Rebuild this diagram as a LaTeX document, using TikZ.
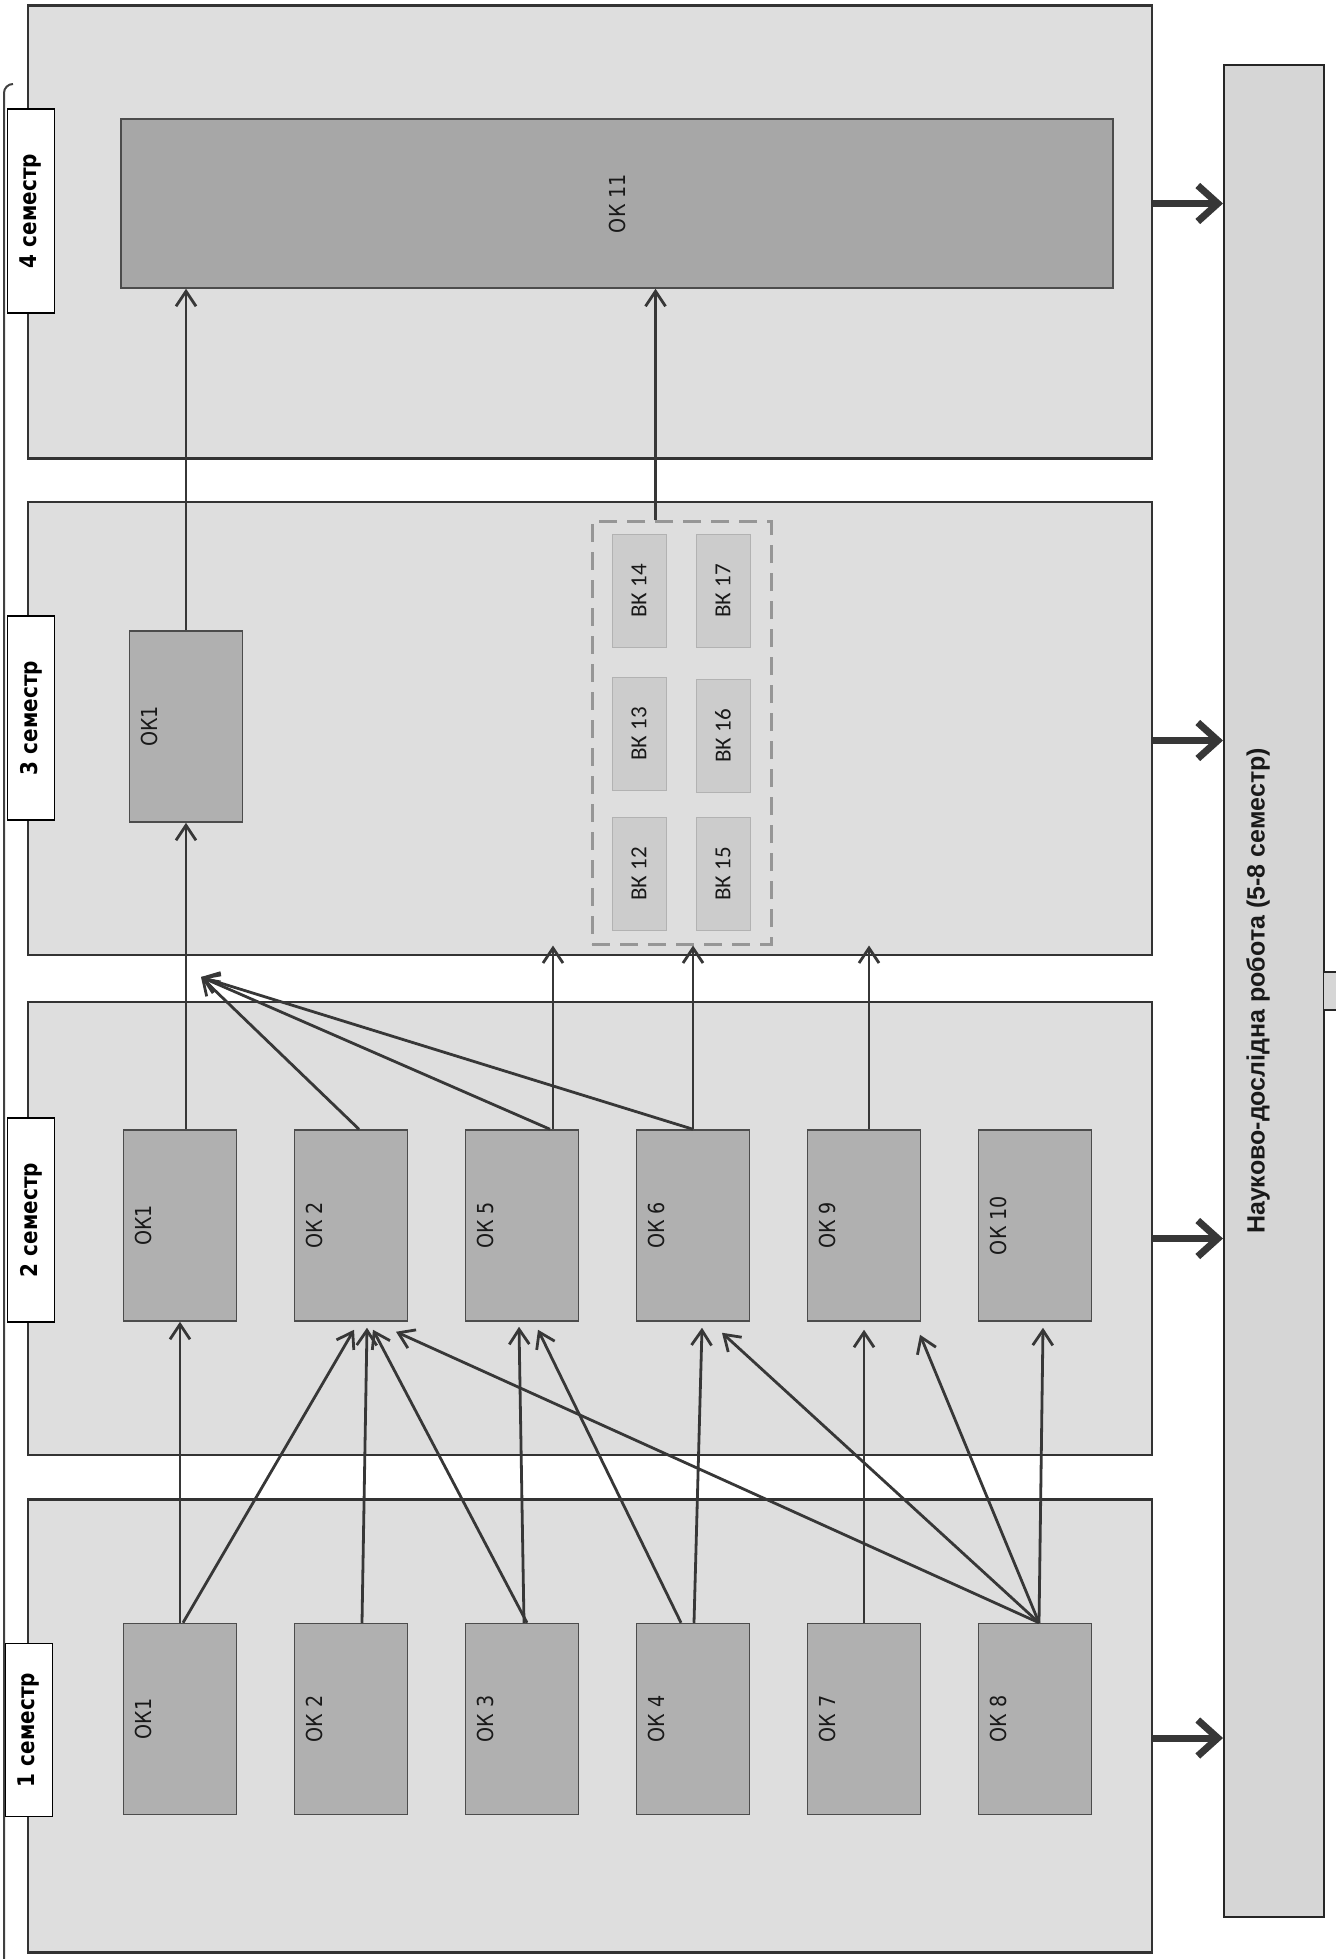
\documentclass[tikz,border=0pt]{standalone}
\usepackage{fontspec}
\usepackage{tikz}
\usetikzlibrary{arrows.meta,positioning}
\newfontfamily\okfont[FakeStretch=0.87]{DejaVu Sans}
\newfontfamily\vkfont{Carlito}
\newfontfamily\nirfont{Liberation Sans}
\definecolor{panelgray}{RGB}{222,222,222}
\definecolor{okgray}{RGB}{176,176,176}
\definecolor{vkgray}{RGB}{204,204,204}
\definecolor{groupgray}{RGB}{150,150,150}
\definecolor{linegray}{RGB}{55,55,55}
\definecolor{nirgray}{RGB}{214,214,214}

\begin{document}
\begin{tikzpicture}[x=1pt,y=-1pt,
  node distance=56.5pt,
  panel/.style={draw=black!80,line width=2.5pt,fill=panelgray,minimum width=1124pt,
    minimum height=453pt,inner sep=0pt},
  sem/.style={draw=black,line width=1.5pt,fill=white,minimum width=47pt,minimum height=204pt,
    inner sep=0pt,font=\okfont\bfseries\fontsize{23}{25}\selectfont},
  ok/.style={draw=black!70,line width=1.5pt,fill=okgray,minimum width=113pt,minimum height=191pt,
    inner sep=0pt,label={[rotate=90,anchor=north,inner sep=12pt,
    font=\okfont\fontsize{22}{24}\selectfont,text=black!90]west:#1}},
  vk/.style={draw=black!30,line width=1pt,fill=vkgray,minimum width=54pt,minimum height=113pt,
    inner sep=0pt,font=\vkfont\fontsize{23}{26}\selectfont,text=black!90},
  arrow/.style={-{Straight Barb[length=15pt,width=20pt]},line width=2.8pt,draw=linegray},
  bigarrow/.style={-{Straight Barb[length=20pt,width=36pt]},line width=7pt,draw=linegray}
]
\useasboundingbox (0,0) rectangle (1336,1959);
\draw[line width=2pt,draw=black!75,rounded corners=9pt] (4,1959) -- (4,84) -- (13,84);

% semester panels
\node[panel] (p4) at (590,232) {};
\node[panel] (p3) at (590,728.5) {};
\node[panel] (p2) at (590,1228.5) {};
\node[panel] (p1) at (590,1726) {};
\node[sem] (s4) at (31,211) {\rotatebox{90}{4 семестр}};
\node[sem] (s3) at (31,718) {\rotatebox{90}{3 семестр}};
\node[sem] (s2) at (31,1220) {\rotatebox{90}{2 семестр}};
\node[sem,minimum height=173pt] (s1) at (29,1730) {\rotatebox{90}{1 семестр}};

% 1 semester
\node[ok=ОК1] (a1) at (180,1719) {};
\node[ok=ОК 2,right=of a1] (a2) {};
\node[ok=ОК 3,right=of a2] (a3) {};
\node[ok=ОК 4,right=of a3] (a4) {};
\node[ok=ОК 7,right=of a4] (a7) {};
\node[ok=ОК 8,right=of a7] (a8) {};

% 2 semester
\node[ok=ОК1,above=301pt of a1] (b1) {};
\node[ok=ОК 2,right=of b1] (b2) {};
\node[ok=ОК 5,right=of b2] (b5) {};
\node[ok=ОК 6,right=of b5] (b6) {};
\node[ok=ОК 9,right=of b6] (b9) {};
\node[ok=ОК 10,right=of b9] (b10) {};

% 3 semester
\node[ok=ОК1] (c1) at (186,726.5) {};
\node[draw=groupgray,dash pattern=on 18pt off 10pt,line width=3pt,minimum width=179pt,
  minimum height=423pt] (vk) at (681.5,732.5) {};
\node[vk] (v14) at (639,591) {\rotatebox{90}{ВК 14}};
\node[vk,below=29pt of v14] (v13) {\rotatebox{90}{ВК 13}};
\node[vk,below=26pt of v13] (v12) {\rotatebox{90}{ВК 12}};
\node[vk] (v17) at (723,591) {\rotatebox{90}{ВК 17}};
\node[vk,below=31pt of v17] (v16) {\rotatebox{90}{ВК 16}};
\node[vk,below=24pt of v16] (v15) {\rotatebox{90}{ВК 15}};

% 4 semester
\node[draw=black!70,line width=1.5pt,fill=okgray!95!black,minimum width=992pt,minimum height=169pt,
  font=\okfont\fontsize{22}{24}\selectfont,text=black!90] (d) at (617,203.5) {\rotatebox{90}{ОК 11}};

% research work
\node[draw=black!85,line width=2pt,fill=nirgray,minimum width=100pt,minimum height=1852pt,
  inner sep=0pt] (nir) at (1274,991) {};
\fill[nirgray] ([xshift=-1pt]nir.east |- 0,973) rectangle (1336,1009);
\draw[line width=2pt,draw=black!85] (nir.east |- 0,972) -- (1336,972) (nir.east |- 0,1010) -- (1336,1010);
\node[rotate=90,font=\nirfont\bfseries\fontsize{25}{27}\selectfont,text=black!90] (nirlbl) at (1258,991)
  {Науково-дослідна робота (5-8 семестр)};

\draw[bigarrow] (p4.east |- d) -- (nir.west |- d);
\draw[bigarrow] ([yshift=-12pt]p3.east) -- ([yshift=-12pt]p3.east -| nir.west);
\draw[bigarrow] ([yshift=-10pt]p2.east) -- ([yshift=-10pt]p2.east -| nir.west);
\draw[bigarrow] ([yshift=-12pt]p1.east) -- ([yshift=-12pt]p1.east -| nir.west);

% 1 -> 2
\draw[arrow] (a1.north) -- (b1.south);
\draw[arrow] ([xshift=3pt]a1.north) -- ([xshift=3pt,yshift=-8pt]b2.south);
\draw[arrow] ([xshift=11pt]a2.north) -- ([xshift=16pt,yshift=-6pt]b2.south);
\draw[arrow] ([xshift=5pt]a3.north) -- ([xshift=22pt,yshift=-8pt]b2.south);
\draw[arrow] ([xshift=4pt]a8.north) -- ([xshift=45pt,yshift=-10pt]b2.south);
\draw[arrow] ([xshift=2pt]a3.north) -- ([xshift=-3pt,yshift=-5pt]b5.south);
\draw[arrow] ([xshift=-12pt]a4.north) -- ([xshift=16pt,yshift=-8pt]b5.south);
\draw[arrow] ([xshift=1pt]a4.north) -- ([xshift=9pt,yshift=-6pt]b6.south);
\draw[arrow] ([xshift=4pt]a8.north) -- ([xshift=29pt,yshift=-11pt]b6.south);
\draw[arrow] (a7.north) -- ([yshift=-8pt]b9.south);
\draw[arrow] ([xshift=4pt]a8.north) -- ([xshift=56pt,yshift=-13pt]b9.south);
\draw[arrow] ([xshift=4pt]a8.north) -- ([xshift=8pt,yshift=-6pt]b10.south);

% 2 -> 3
\coordinate (j3) at (201,977);
\draw[arrow] (b1.north -| c1.south) -- (c1.south);
\draw[arrow] ([xshift=8pt]b2.north) -- (j3);
\draw[arrow] ([xshift=28pt]b5.north) -- (j3);
\draw[arrow] (b6.north) -- (j3);
\draw[arrow] ([xshift=31pt]b5.north) -- ([xshift=31pt]b5.north |- vk.south);
\draw[arrow] (b6.north) -- (b6.north |- vk.south);
\draw[arrow] ([xshift=5pt]b9.north) -- ([xshift=5pt]b9.north |- vk.south);

% 3 -> 4
\draw[arrow] (c1.north) -- (c1.north |- d.south);
\draw[arrow] ([xshift=-26pt]vk.north) -- ([xshift=-26pt]vk.north |- d.south);
\end{tikzpicture}
\end{document}
